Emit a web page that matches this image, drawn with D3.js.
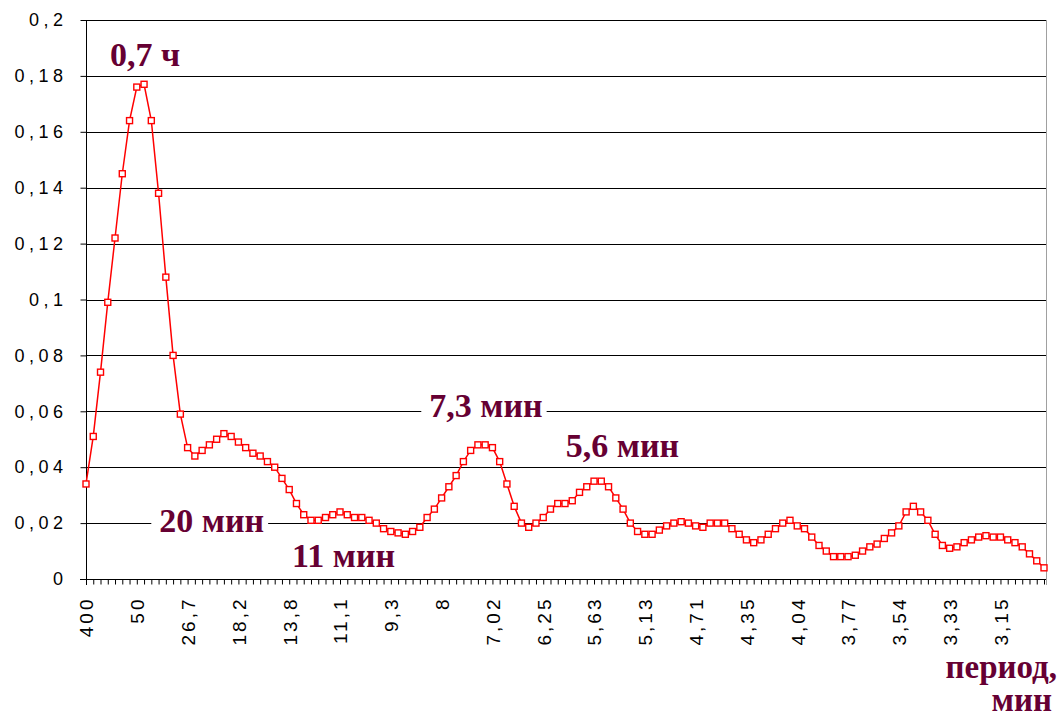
<!DOCTYPE html>
<html>
<head>
<meta charset="utf-8">
<script src="https://cdn.jsdelivr.net/npm/d3@7"></script>
<style>
  body { margin: 0; background: #fff; }
  svg { display: block; }
</style>
</head>
<body>
<div class="chart-container"></div>
<script>
// period labels, shown on every 7th category (period = 400 / k min)
const periodLabels = ['400', '50', '26,7', '18,2', '13,8', '11,1', '9,3', '8', '7,02', '6,25',
    '5,63', '5,13', '4,71', '4,35', '4,04', '3,77', '3,54', '3,33', '3,15'];
const labelStep = 7;

// spectrum amplitude, one value per category
const amplitude = [
    0.034, 0.051, 0.074, 0.099, 0.122, 0.145, 0.164, 0.176, 0.177, 0.164,
    0.138, 0.108, 0.080, 0.059, 0.047, 0.044, 0.046, 0.048, 0.050, 0.052,
    0.051, 0.049, 0.047, 0.045, 0.044, 0.042, 0.040, 0.036, 0.032, 0.027,
    0.023, 0.021, 0.021, 0.022, 0.023, 0.024, 0.023, 0.022, 0.022, 0.021,
    0.020, 0.018, 0.017, 0.0165, 0.016, 0.017, 0.0185, 0.022, 0.025, 0.029,
    0.033, 0.037, 0.042, 0.046, 0.048, 0.048, 0.047, 0.042, 0.034, 0.026,
    0.020, 0.0185, 0.020, 0.022, 0.025, 0.027, 0.027, 0.028, 0.031, 0.033,
    0.035, 0.035, 0.033, 0.029, 0.025, 0.020, 0.017, 0.016, 0.016, 0.0175,
    0.019, 0.020, 0.0205, 0.020, 0.019, 0.0185, 0.020, 0.020, 0.020, 0.018,
    0.016, 0.014, 0.013, 0.014, 0.016, 0.018, 0.020, 0.021, 0.019, 0.018,
    0.015, 0.012, 0.010, 0.008, 0.008, 0.008, 0.0085, 0.010, 0.0115, 0.0125,
    0.0145, 0.0165, 0.019, 0.024, 0.026, 0.024, 0.021, 0.016, 0.012, 0.011,
    0.0115, 0.013, 0.014, 0.015, 0.0155, 0.015, 0.015, 0.014, 0.013, 0.0115,
    0.009, 0.0065, 0.004
];

const yTicks = [0, 0.02, 0.04, 0.06, 0.08, 0.1, 0.12, 0.14, 0.16, 0.18, 0.2];

// peak annotations: text, category index where text starts, value of baseline
const noteText = ['0,7 ч', '7,3 мин', '5,6 мин', '20 мин', '11 мин'];
const noteAt = [3.3, 47.3, 66.1, 10.1, 28.4];
const noteLevel = [0.1835, 0.058, 0.0437, 0.0168, 0.0043];
const noteMasked = [false, true, true, true, false];

const axisTitle = ['период,', 'мин'];

const width = 1060;
const height = 717;
const marginTop = 20;
const marginLeft = 86;
const plotRight = 1046;
const plotBottom = 579;

const x = d3.scalePoint()
    .domain(d3.range(amplitude.length))
    .range([marginLeft, 1044]);

const y = d3.scaleLinear()
    .domain([0, 0.2])
    .range([plotBottom, marginTop]);

const svg = d3.select('.chart-container').append('svg')
    .attr('width', width)
    .attr('height', height);

const maroon = '#660033';
const noteFont = '"Liberation Serif", "Times New Roman", serif';

// grid lines
svg.append('g')
    .selectAll('line')
    .data(yTicks.filter(d => d > 0))
    .enter()
    .append('line')
    .attr('x1', marginLeft)
    .attr('x2', plotRight)
    .attr('y1', d => Math.round(y(d)) + 0.5)
    .attr('y2', d => Math.round(y(d)) + 0.5)
    .attr('stroke', '#000')
    .attr('stroke-width', 1);

// right border of plot
svg.append('line')
    .attr('x1', plotRight + 0.5).attr('x2', plotRight + 0.5)
    .attr('y1', marginTop).attr('y2', plotBottom + 6)
    .attr('stroke', '#a0a0a0');

// y axis
const yAxis = svg.append('g')
    .attr('transform', `translate(${marginLeft + 0.5},0)`)
    .call(d3.axisLeft(y)
        .tickValues(yTicks)
        .tickSize(6)
        .tickSizeOuter(0)
        .tickPadding(13)
        .tickFormat(d => String(d).replace('.', ',')));

yAxis.select('.domain').attr('stroke', '#000').attr('d', `M0,${marginTop}V${plotBottom + 6}`);
yAxis.selectAll('.tick line').attr('stroke', '#000');
yAxis.selectAll('text')
    .attr('fill', '#000')
    .style('font-family', '"Liberation Sans", Arial, sans-serif')
    .style('font-size', '18px')
    .style('letter-spacing', '4.5px');

// x axis
const xAxis = svg.append('g')
    .attr('transform', `translate(0,${plotBottom + 0.5})`)
    .call(d3.axisBottom(x)
        .tickValues(x.domain())
        .tickSize(5)
        .tickSizeOuter(0)
        .tickFormat(i => i % labelStep === 0 ? periodLabels[i / labelStep] : ''));

xAxis.select('.domain').attr('stroke', '#000').attr('d', `M${marginLeft - 6},0H${plotRight}`);
xAxis.selectAll('.tick line').attr('stroke', '#000');
xAxis.selectAll('text')
    .attr('fill', '#000')
    .attr('transform', 'rotate(-90)')
    .attr('text-anchor', 'end')
    .attr('x', -17)
    .attr('y', 0)
    .attr('dy', '0.36em')
    .style('font-family', '"Liberation Sans", Arial, sans-serif')
    .style('font-size', '19px')
    .style('letter-spacing', '3px');

// data line
const line = d3.line()
    .x((d, i) => x(i))
    .y(d => y(d));

svg.append('path')
    .datum(amplitude)
    .attr('fill', 'none')
    .attr('stroke', '#ff0000')
    .attr('stroke-width', 1.5)
    .attr('d', line);

svg.append('g')
    .selectAll('rect')
    .data(amplitude)
    .enter()
    .append('rect')
    .attr('x', (d, i) => x(i) - 3)
    .attr('y', d => y(d) - 3)
    .attr('width', 6)
    .attr('height', 6)
    .attr('fill', '#fff')
    .attr('stroke', '#ff0000')
    .attr('stroke-width', 1.4);

// annotations
const notes = svg.append('g');
noteText.forEach((t, k) => {
    const g = notes.append('g');
    const text = g.append('text')
        .attr('x', marginLeft + noteAt[k] * x.step())
        .attr('y', y(noteLevel[k]))
        .attr('fill', maroon)
        .style('font-family', noteFont)
        .style('font-size', '34px')
        .style('font-weight', 'bold')
        .text(t);
    if (noteMasked[k]) {
        const b = text.node().getBBox();
        g.insert('rect', 'text')
            .attr('x', b.x - 8)
            .attr('y', b.y + 4)
            .attr('width', b.width + 12)
            .attr('height', b.height - 8)
            .attr('fill', '#fff');
    }
});

svg.append('g')
    .selectAll('text')
    .data(axisTitle)
    .enter()
    .append('text')
    .attr('x', (d, i) => i === 0 ? 1057 : 1052)
    .attr('y', (d, i) => 678 + i * 33)
    .attr('text-anchor', 'end')
    .attr('fill', maroon)
    .style('font-family', noteFont)
    .style('font-size', '33px')
    .style('font-weight', 'bold')
    .text(d => d);
</script>
</body>
</html>
